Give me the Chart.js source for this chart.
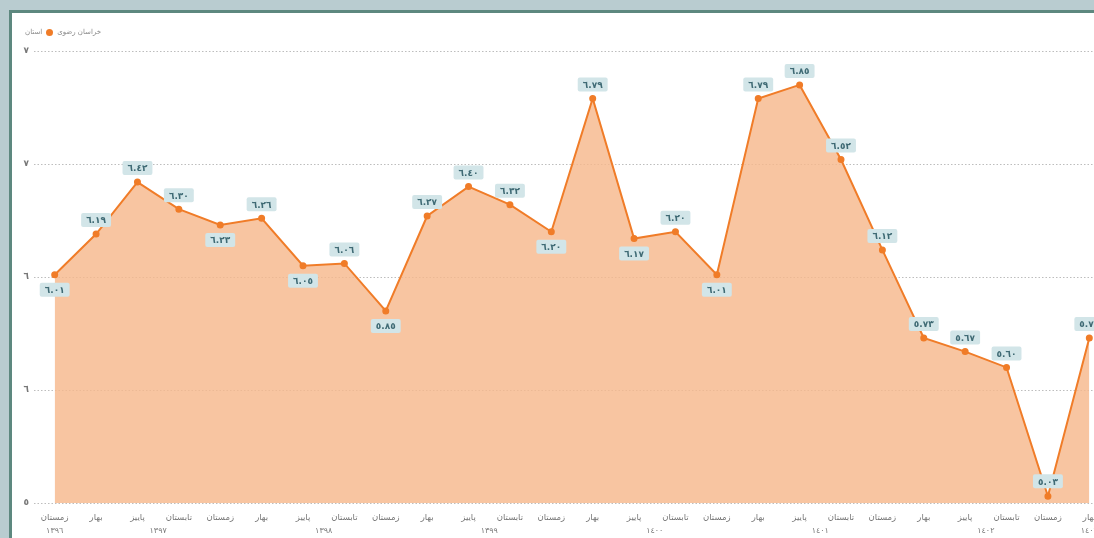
<!DOCTYPE html>
<html lang="fa">
  <head>
    <meta charset="UTF-8" />
    <title>خراسان رضوی</title>
    <style>
      html, body { margin: 0; padding: 0; overflow: hidden; background: #b9ccd0; width: 1094px; height: 538px; }
      #panel { position: absolute; left: 9px; top: 10px; width: 1130px; height: 560px; background: #fff;
               border-left: 3px solid #5d887f; border-top: 3px solid #5d887f; }
      #box { position: absolute; left: 0; top: 0; width: 1104px; height: 540px; }
      #legend { position: absolute; left: 25px; top: 28px; display: flex; align-items: center;
                font: 7px "DejaVu Sans", sans-serif; color: #888; white-space: nowrap; }
      #legend .dot { width: 7px; height: 7px; border-radius: 50%; background: #f07c28; margin: 0 4px; }
    </style>
  </head>
  <body>
    <div id="panel">
      <div id="box"><canvas id="myChart"></canvas></div>
    </div>
    <div id="legend"><span>استان</span><span class="dot"></span><span>خراسان رضوی</span></div>
    <script src="https://cdn.jsdelivr.net/npm/chart.js@4.4.1/dist/chart.umd.min.js"></script>
    <script>
      // seasons, left to right as shown on the chart
      var seasons = [
        "زمستان", "بهار", "پاییز", "تابستان", "زمستان", "بهار", "پاییز", "تابستان",
        "زمستان", "بهار", "پاییز", "تابستان", "زمستان", "بهار", "پاییز", "تابستان",
        "زمستان", "بهار", "پاییز", "تابستان", "زمستان", "بهار", "پاییز", "تابستان",
        "زمستان", "بهار"
      ];
      var values = [
        6.01, 6.19, 6.42, 6.30, 6.23, 6.26, 6.05, 6.06, 5.85, 6.27, 6.40, 6.32, 6.20,
        6.79, 6.17, 6.20, 6.01, 6.79, 6.85, 6.52, 6.12, 5.73, 5.67, 5.60, 5.03, 5.73
      ];
      // year groups (first and last season index of each year)
      var years = ["1396", "1397", "1398", "1399", "1400", "1401", "1402", "1403"];
      var yearFrom = [0, 1, 5, 9, 13, 17, 21, 25];
      var yearTo = [0, 4, 8, 12, 16, 20, 24, 25];
      var yTicks = [5, 5.5, 6, 6.5, 7];

      var digits = "٠١٢٣٤٥٦٧٨٩";
      function fa(s) {
        return String(s).replace(/[0-9]/g, function (d) { return digits[+d]; });
      }

      var font = "'DejaVu Sans', sans-serif";

      var valueLabels = {
        id: "valueLabels",
        afterDatasetsDraw(chart) {
          var ctx = chart.ctx;
          var pts = chart.getDatasetMeta(0).data;
          var area = chart.chartArea;
          ctx.save();
          ctx.font = "bold 9px " + font;
          ctx.textAlign = "center";
          ctx.textBaseline = "middle";
          values.forEach(function (v, i) {
            var p = pts[i];
            var prev = i > 0 ? values[i - 1] : Infinity;
            var next = i < values.length - 1 ? values[i + 1] : Infinity;
            var below = v < prev && v < next;
            var y = below ? p.y + 15 : p.y - 14;
            if (below && y + 7 > area.bottom) y = p.y - 15;
            var txt = fa(v.toFixed(2));
            var w = ctx.measureText(txt).width + 10;
            ctx.fillStyle = "#d2e5e8";
            ctx.beginPath();
            ctx.roundRect(p.x - w / 2, y - 7, w, 14, 2);
            ctx.fill();
            ctx.fillStyle = "#3f6a74";
            ctx.fillText(txt, p.x, y + 1);
          });
          ctx.restore();
        },
      };

      var yearLabels = {
        id: "yearLabels",
        afterDraw(chart) {
          var ctx = chart.ctx;
          var x = chart.scales.x;
          ctx.save();
          ctx.font = "8px " + font;
          ctx.fillStyle = "#777";
          ctx.textAlign = "center";
          ctx.textBaseline = "middle";
          years.forEach(function (y, i) {
            var cx = (x.getPixelForValue(yearFrom[i]) + x.getPixelForValue(yearTo[i])) / 2;
            ctx.fillText(fa(y), cx, chart.chartArea.bottom + 28);
          });
          ctx.restore();
        },
      };

      new Chart("myChart", {
        type: "line",
        data: {
          labels: seasons,
          datasets: [
            {
              label: "خراسان رضوی",
              data: values,
              borderColor: "#f07c28",
              backgroundColor: "rgba(246,184,140,0.82)",
              borderWidth: 2,
              pointRadius: 2.5,
              pointBackgroundColor: "#f07c28",
              pointBorderColor: "#f07c28",
              fill: "start",
              tension: 0,
            },
          ],
        },
        options: {
          responsive: true,
          maintainAspectRatio: false,
          animation: false,
          layout: { padding: { top: 38, bottom: 14, left: 0, right: 0 } },
          plugins: { legend: { display: false }, tooltip: { enabled: false } },
          scales: {
            x: {
              offset: true,
              grid: { display: false },
              border: { display: false },
              ticks: { autoSkip: false, maxRotation: 0, padding: 2, color: "#777", font: { family: font, size: 8.5 } },
              afterFit(s) { s.height = 36; },
            },
            y: {
              min: 5,
              max: 7,
              afterBuildTicks(s) { s.ticks = yTicks.map(function (v) { return { value: v }; }); },
              grid: { color: "#bdbdbd", lineWidth: 1, drawTicks: false },
              border: { display: false, dash: [1.5, 2] },
              ticks: {
                padding: 5,
                color: "#777",
                font: { family: font, size: 9, weight: "bold" },
                callback: function (v) { return fa(Math.round(v)); },
              },
              afterFit(s) { s.width = 22; },
            },
          },
        },
        plugins: [valueLabels, yearLabels],
      });
    </script>
  </body>
</html>
